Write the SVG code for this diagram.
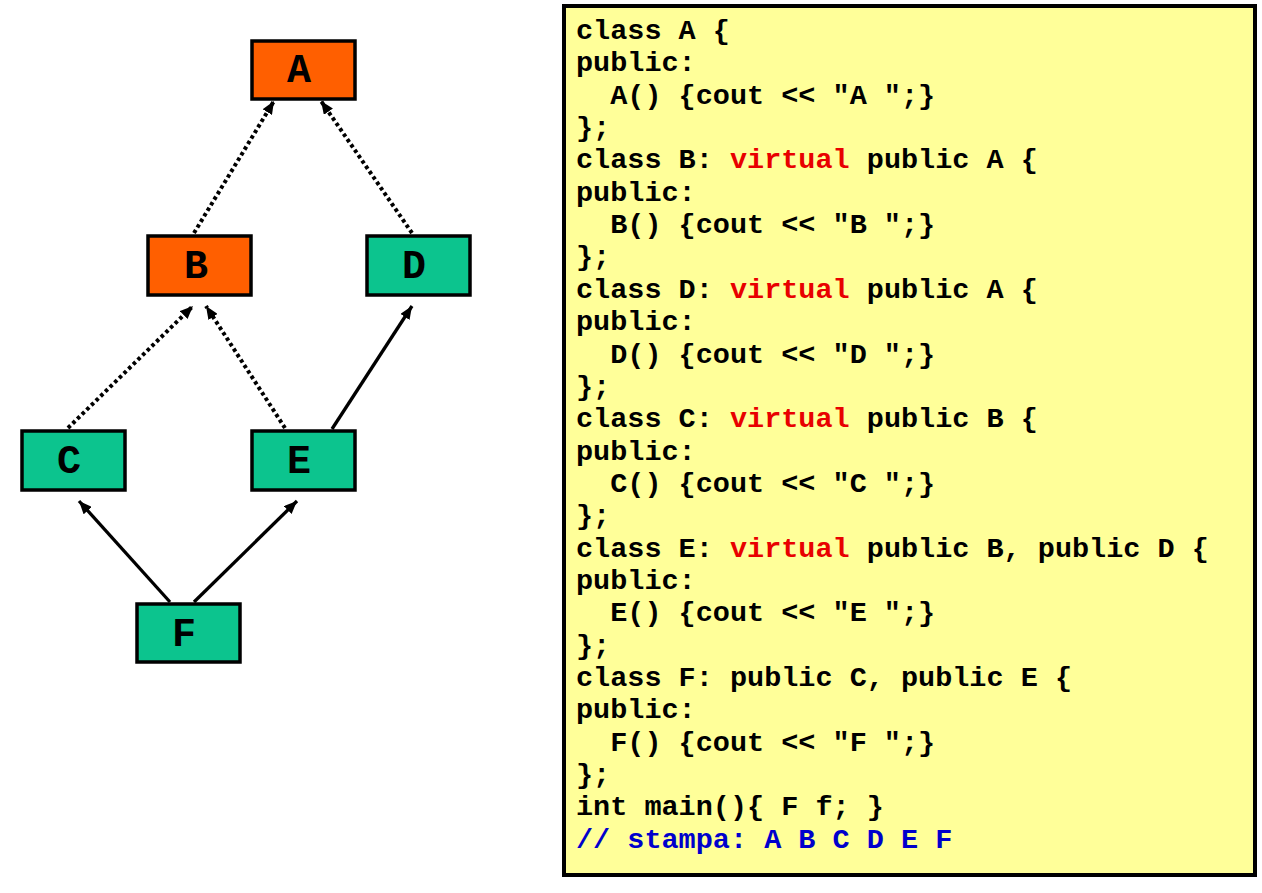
<svg xmlns="http://www.w3.org/2000/svg" width="1262" height="893" viewBox="0 0 1262 893">
  <style>
    .box { stroke: #000; stroke-width: 3.5; }
    .orange { fill: #FF5F00; }
    .green { fill: #0CC48E; }
    .lbl { font-family: "Liberation Mono", "Courier New", monospace; font-weight: bold; font-size: 40px; fill: #000; text-anchor: middle; }
    .edge { stroke: #000; stroke-width: 3.3; fill: none; marker-end: url(#head); }
    .dot { stroke-width: 4; stroke-dasharray: 3.5 3; }
    .code { font-family: "Liberation Mono", "Courier New", monospace; font-weight: bold; font-size: 28.5px; fill: #000; white-space: pre; }
    .kw { fill: #E80000; }
    .cm { fill: #0000CC; }
  </style>
  <defs>
    <marker id="head" markerUnits="userSpaceOnUse" markerWidth="13" markerHeight="11" refX="13" refY="5.5" orient="auto">
      <path d="M0,0 L13,5.5 L0,11 z" fill="#000"/>
    </marker>
  </defs>

  <rect width="1262" height="893" fill="#fff"/>

  <!-- inheritance edges -->
  <g id="connectors">
    <line class="edge dot" x1="194" y1="233" x2="274" y2="101"/>
    <line class="edge dot" x1="412" y1="233" x2="321" y2="101"/>
    <line class="edge dot" x1="68" y1="428" x2="193" y2="306"/>
    <line class="edge dot" x1="285" y1="428" x2="206" y2="306"/>
    <line class="edge" x1="332" y1="429" x2="412" y2="306"/>
    <line class="edge" x1="170" y1="602" x2="79" y2="501"/>
    <line class="edge" x1="194" y1="602" x2="297" y2="501"/>
  </g>

  <g id="node-A">
    <rect class="box orange" x="252" y="41" width="103" height="58"/>
    <text class="lbl" x="299" y="82">A</text>
  </g>
  <g id="node-B">
    <rect class="box orange" x="148" y="236" width="103" height="59"/>
    <text class="lbl" x="196" y="278">B</text>
  </g>
  <g id="node-D">
    <rect class="box green" x="367" y="236" width="103" height="59"/>
    <text class="lbl" x="414" y="278">D</text>
  </g>
  <g id="node-C">
    <rect class="box green" x="22" y="431" width="103" height="59"/>
    <text class="lbl" x="69" y="473">C</text>
  </g>
  <g id="node-E">
    <rect class="box green" x="252" y="431" width="103" height="59"/>
    <text class="lbl" x="299" y="473">E</text>
  </g>
  <g id="node-F">
    <rect class="box green" x="137" y="604" width="103" height="58"/>
    <text class="lbl" x="184" y="646">F</text>
  </g>

  <!-- source listing -->
  <g id="code">
    <rect x="564" y="6" width="691" height="869" fill="#FFFF99" stroke="#000" stroke-width="4"/>
    <text class="code">
      <tspan x="576" y="39">class A {</tspan>
      <tspan x="576" y="71.35">public:</tspan>
      <tspan x="576" y="103.7">  A() {cout &lt;&lt; "A ";}</tspan>
      <tspan x="576" y="136.05">};</tspan>
      <tspan x="576" y="168.4">class B: <tspan class="kw">virtual</tspan> public A {</tspan>
      <tspan x="576" y="200.75">public:</tspan>
      <tspan x="576" y="233.1">  B() {cout &lt;&lt; "B ";}</tspan>
      <tspan x="576" y="265.45">};</tspan>
      <tspan x="576" y="297.8">class D: <tspan class="kw">virtual</tspan> public A {</tspan>
      <tspan x="576" y="330.15">public:</tspan>
      <tspan x="576" y="362.5">  D() {cout &lt;&lt; "D ";}</tspan>
      <tspan x="576" y="394.85">};</tspan>
      <tspan x="576" y="427.2">class C: <tspan class="kw">virtual</tspan> public B {</tspan>
      <tspan x="576" y="459.55">public:</tspan>
      <tspan x="576" y="491.9">  C() {cout &lt;&lt; "C ";}</tspan>
      <tspan x="576" y="524.25">};</tspan>
      <tspan x="576" y="556.6">class E: <tspan class="kw">virtual</tspan> public B, public D {</tspan>
      <tspan x="576" y="588.95">public:</tspan>
      <tspan x="576" y="621.3">  E() {cout &lt;&lt; "E ";}</tspan>
      <tspan x="576" y="653.65">};</tspan>
      <tspan x="576" y="686">class F: public C, public E {</tspan>
      <tspan x="576" y="718.35">public:</tspan>
      <tspan x="576" y="750.7">  F() {cout &lt;&lt; "F ";}</tspan>
      <tspan x="576" y="783.05">};</tspan>
      <tspan x="576" y="815.4">int main(){ F f; }</tspan>
      <tspan x="576" y="847.75" class="cm">// stampa: A B C D E F</tspan>
    </text>
  </g>
</svg>
